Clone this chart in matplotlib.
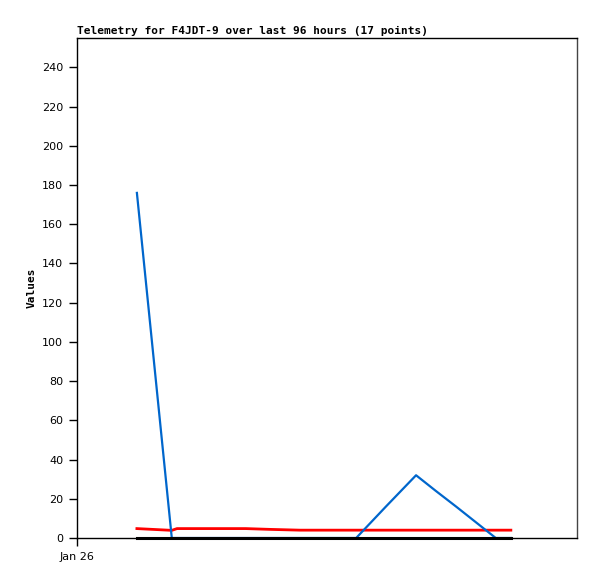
import matplotlib
matplotlib.use('Agg')
import matplotlib.pyplot as plt
import matplotlib.dates as mdates
from datetime import datetime, timedelta

# Heures depuis le début de l'axe (26 jan 00:00) pour les 17 points
hours = [11.5, 18.2, 19.2, 23.6, 28.4, 32.4, 37.0, 42.8, 48.6, 53.6,
         59.3, 65.1, 68.9, 72.8, 76.6, 80.4, 83.3]
blue_vals = [176, 0, 0, 0, 0, 0, 0, 0, 0, 0, 16, 32, 24, 16, 8, 0, 0]
red_vals = [4.8, 3.9, 4.8, 4.8, 4.8, 4.8, 4.4, 4.0, 4.0, 4.0,
            4.0, 4.0, 4.0, 4.0, 4.0, 4.0, 4.0]
black_vals = [0] * 17

start = datetime(2024, 1, 26)
times = [start + timedelta(hours=h) for h in hours]

fig = plt.figure(figsize=(5.97, 5.79), dpi=100)
ax = fig.add_axes([77 / 597, 41 / 579, 500 / 597, 500 / 579])

ax.plot(times, black_vals, color='black', lw=2.2, zorder=5, clip_on=False)
ax.plot(times, red_vals, color='#ff0000', lw=2, zorder=3)
ax.plot(times, blue_vals, color='#0066cc', lw=1.6, zorder=4, clip_on=False)

ax.set_xlim(start, start + timedelta(hours=96))
ax.set_ylim(0, 255)
ax.set_yticks(range(0, 241, 20))
ax.set_xticks([start])
ax.xaxis.set_major_formatter(mdates.DateFormatter('%b %d'))
ax.tick_params(labelsize=8, length=6, width=1, direction='out', pad=4)
for s in ax.spines.values():
    s.set_linewidth(1)
ax.spines['right'].set_color('#444444')

ax.set_ylabel('Values', fontsize=8, fontweight='bold', family='DejaVu Sans Mono')
ax.set_title('Telemetry for F4JDT-9 over last 96 hours (17 points)', loc='left',
             fontsize=8, fontweight='bold', family='DejaVu Sans Mono', pad=3)

fig.savefig('out.png', dpi=100)
